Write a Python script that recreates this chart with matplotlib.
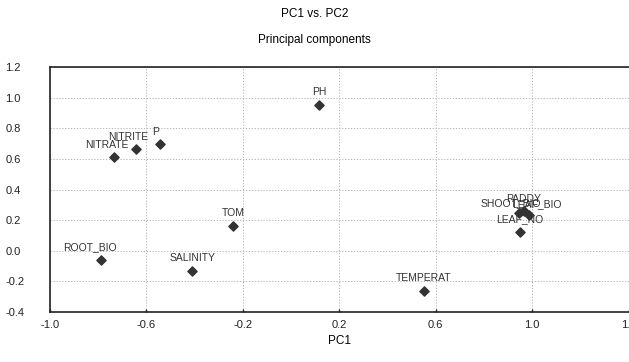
import matplotlib
matplotlib.use("Agg")
import matplotlib.pyplot as plt

plt.rcParams["font.family"] = ["Liberation Sans", "DejaVu Sans"]
plt.rcParams["axes.unicode_minus"] = False

# PC loadings
names = ["PH", "NITRATE", "NITRITE", "P", "TOM", "ROOT_BIO", "SALINITY",
         "TEMPERAT", "LEAF_NO", "SHOOT_BIO", "PADDY", "LEAF_BIO"]
pc1 = [0.115, -0.735, -0.645, -0.545, -0.24, -0.79, -0.41,
       0.55, 0.95, 0.945, 0.965, 0.985]
pc2 = [0.95, 0.61, 0.665, 0.70, 0.16, -0.06, -0.135,
       -0.265, 0.12, 0.245, 0.26, 0.235]
# label offsets in points (dx, dy)
offsets = [(0, 6), (-5, 5), (-5, 5), (-3, 5), (0, 6), (-8, 6), (0, 6),
           (0, 6), (0, 6), (-6, 4), (0, 5), (6, 4)]

xticks = [-1.0, -0.6, -0.2, 0.2, 0.6, 1.0, 1.4]
yticks = [-0.4, -0.2, 0.0, 0.2, 0.4, 0.6, 0.8, 1.0, 1.2]

fig = plt.figure(figsize=(6.29, 3.62), dpi=100)
ax = fig.add_axes([0.0795, 0.138, 0.92, 0.677])

ax.scatter(pc1, pc2, marker="D", s=22, color="#333333", zorder=3)
for n, x, y, (dx, dy) in zip(names, pc1, pc2, offsets):
    ax.annotate(n, (x, y), xytext=(dx, dy), textcoords="offset points",
                ha="center", va="bottom", fontsize=7.5, color="#333333")

ax.set_xlim(-1.0, 1.4)
ax.set_ylim(-0.4, 1.2)
ax.set_xticks(xticks)
ax.set_yticks(yticks)
ax.set_xticklabels([f"{v:.1f}" for v in xticks])
ax.set_yticklabels([f"{v:.1f}" for v in yticks])
ax.tick_params(axis="x", length=2, width=1, direction="in", labelsize=8,
               colors="#222222", pad=6)
ax.tick_params(axis="y", length=0, labelsize=8, colors="#222222", pad=32)
for lbl in ax.get_yticklabels():
    lbl.set_horizontalalignment("left")
ax.grid(True, linestyle=(0, (1.5, 2)), color="#aaaaaa", linewidth=0.6)
ax.set_axisbelow(True)
for s in ["top", "left", "bottom"]:
    ax.spines[s].set_linewidth(1.2)
    ax.spines[s].set_color("#222222")
ax.spines["right"].set_visible(False)

ax.set_xlabel("PC1", fontsize=8.5, labelpad=3)
fig.text(0.5, 0.96, "PC1 vs. PC2", ha="center", va="center", fontsize=8.5)
fig.text(0.5, 0.89, "Principal components", ha="center", va="center", fontsize=8.5)

fig.savefig("out.png", dpi=100)
